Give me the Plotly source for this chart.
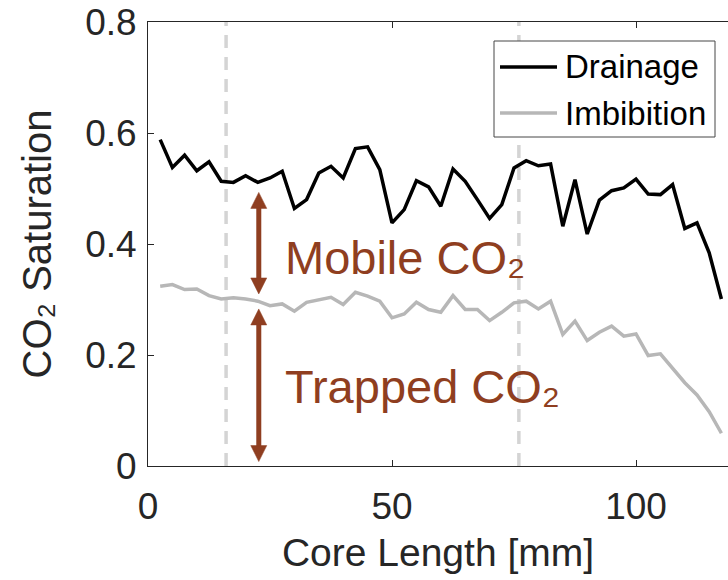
import plotly.graph_objects as go

# ---- data -------------------------------------------------------------
core_length_mm = [2.5, 5.0, 7.5, 10.0, 12.5, 15.0, 17.5, 20.0, 22.5, 25.0,
                  27.5, 30.0, 32.5, 35.0, 37.5, 40.0, 42.5, 45.0, 47.5, 50.0,
                  52.5, 55.0, 57.5, 60.0, 62.5, 65.0, 67.5, 70.0, 72.5, 75.0,
                  77.5, 80.0, 82.5, 85.0, 87.5, 90.0, 92.5, 95.0, 97.5, 100.0,
                  102.5, 105.0, 107.5, 110.0, 112.5, 115.0, 117.5]

drainage = [0.588, 0.538, 0.560, 0.532, 0.548, 0.513, 0.511, 0.523, 0.511, 0.519,
            0.531, 0.464, 0.480, 0.528, 0.540, 0.519, 0.572, 0.575, 0.534, 0.438,
            0.462, 0.514, 0.503, 0.468, 0.535, 0.513, 0.480, 0.446, 0.471, 0.537,
            0.550, 0.541, 0.544, 0.432, 0.516, 0.418, 0.479, 0.496, 0.501, 0.517,
            0.490, 0.489, 0.507, 0.428, 0.438, 0.384, 0.301]

imbibition = [0.324, 0.327, 0.318, 0.319, 0.307, 0.301, 0.303, 0.301, 0.297, 0.289,
              0.292, 0.279, 0.295, 0.300, 0.304, 0.291, 0.313, 0.306, 0.297, 0.267,
              0.274, 0.295, 0.282, 0.277, 0.307, 0.282, 0.282, 0.262, 0.277, 0.294,
              0.297, 0.283, 0.297, 0.237, 0.261, 0.226, 0.241, 0.252, 0.234, 0.238,
              0.199, 0.202, 0.175, 0.150, 0.128, 0.098, 0.059]

series_names = ["Drainage", "Imbibition"]
region_labels = ["Mobile CO\u2082", "Trapped CO\u2082"]
x_title = "Core Length [mm]"
y_title = "CO\u2082 Saturation"
section_bounds_mm = [16, 76]          # dashed markers along the core
x_ticks = [0, 50, 100]
y_ticks = [0, 0.2, 0.4, 0.6, 0.8]

arrow_x_mm = 22.7
mobile_span = [0.493, 0.310]          # drainage -> imbibition level
trapped_span = [0.283, 0.008]         # imbibition -> zero
label_x_mm = 27.6
region_label_y = [0.376, 0.143]

# ---- styling ----------------------------------------------------------
W, H = 728, 580
M_L, M_R, M_T, M_B = 148, 0, 22, 114
PW, PH = W - M_L - M_R, H - M_T - M_B
X_MAX = PW / 4.88
Y_MAX = 0.8

FONT = "Liberation Sans, Arial, Helvetica, sans-serif"
AX_COLOR = "#262626"
BROWN = "#8F3E20"
DRAIN_COLOR = "black"
IMB_COLOR = "rgb(183,183,183)"
DASH_COLOR = "rgb(212,212,212)"

HEAD_W_PX, HEAD_L_PX, SHAFT_W_PX = 16, 16, 5


def paper_x(px):
    return (px - M_L) / PW


def paper_y(py):
    return (H - M_B - py) / PH


fig = go.Figure()
fig.add_trace(go.Scatter(x=core_length_mm, y=drainage, mode="lines",
                         name=series_names[0], showlegend=False,
                         line=dict(color=DRAIN_COLOR, width=3.5)))
fig.add_trace(go.Scatter(x=core_length_mm, y=imbibition, mode="lines",
                         name=series_names[1], showlegend=False,
                         line=dict(color=IMB_COLOR, width=3.5)))

shapes = []
for xb in section_bounds_mm:
    shapes.append(dict(type="line", xref="x", yref="paper", x0=xb, x1=xb,
                       y0=0, y1=1, layer="below",
                       line=dict(color=DASH_COLOR, width=3.5, dash="13px,9px")))

# double-headed arrows: shaft plus two triangular heads
hw = HEAD_W_PX / 2 * X_MAX / PW
hl = HEAD_L_PX * Y_MAX / PH
for top, bottom in [mobile_span, trapped_span]:
    shapes.append(dict(type="line", xref="x", yref="y",
                       x0=arrow_x_mm, x1=arrow_x_mm, y0=bottom + hl * 0.9, y1=top - hl * 0.9,
                       line=dict(color=BROWN, width=SHAFT_W_PX)))
    for tip, sign in [(top, -1), (bottom, 1)]:
        base = tip + sign * hl
        shapes.append(dict(type="path", xref="x", yref="y",
                           path=(f"M {arrow_x_mm - hw},{base} L {arrow_x_mm},{tip} "
                                 f"L {arrow_x_mm + hw},{base} Z"),
                           fillcolor=BROWN, line=dict(color=BROWN, width=0.5)))

# legend box drawn by hand so the line samples are long like the original
shapes.append(dict(type="rect", xref="paper", yref="paper",
                   x0=paper_x(494), x1=paper_x(715), y0=paper_y(137), y1=paper_y(41),
                   fillcolor="white", layer="above",
                   line=dict(color="rgb(70,70,70)", width=1)))
annotations = []
for name, color, py in [(series_names[0], DRAIN_COLOR, 67),
                        (series_names[1], IMB_COLOR, 113)]:
    shapes.append(dict(type="line", xref="paper", yref="paper",
                       x0=paper_x(500), x1=paper_x(557), y0=paper_y(py), y1=paper_y(py),
                       layer="above", line=dict(color=color, width=3.5)))
    annotations.append(dict(xref="paper", yref="paper", x=paper_x(563), y=paper_y(py),
                            xanchor="left", yanchor="middle", showarrow=False,
                            text=name, font=dict(family=FONT, size=33, color="black")))

for txt, yv in zip(region_labels, region_label_y):
    annotations.append(dict(x=label_x_mm, y=yv, xref="x", yref="y",
                            xanchor="left", yanchor="middle", showarrow=False,
                            text=txt, font=dict(family=FONT, size=47, color=BROWN)))

axis_common = dict(showgrid=False, zeroline=False, showline=True,
                   linecolor=AX_COLOR, linewidth=1, ticks="inside", ticklen=6,
                   tickwidth=1, tickcolor=AX_COLOR,
                   tickfont=dict(family=FONT, size=37, color=AX_COLOR))

fig.update_layout(
    width=W, height=H,
    margin=dict(l=M_L, r=M_R, t=M_T, b=M_B),
    paper_bgcolor="white", plot_bgcolor="white",
    shapes=shapes, annotations=annotations,
    xaxis=dict(range=[0, X_MAX], tickvals=x_ticks, mirror="ticks",
               ticklabelstandoff=8,
               title=dict(text=x_title, standoff=12,
                          font=dict(family=FONT, size=39, color=AX_COLOR)),
               **axis_common),
    yaxis=dict(range=[0, Y_MAX], tickvals=y_ticks, mirror=False,
               ticklabelstandoff=3,
               title=dict(text=y_title, standoff=21,
                          font=dict(family=FONT, size=40, color=AX_COLOR)),
               **axis_common),
)

fig.write_html("out.html")
